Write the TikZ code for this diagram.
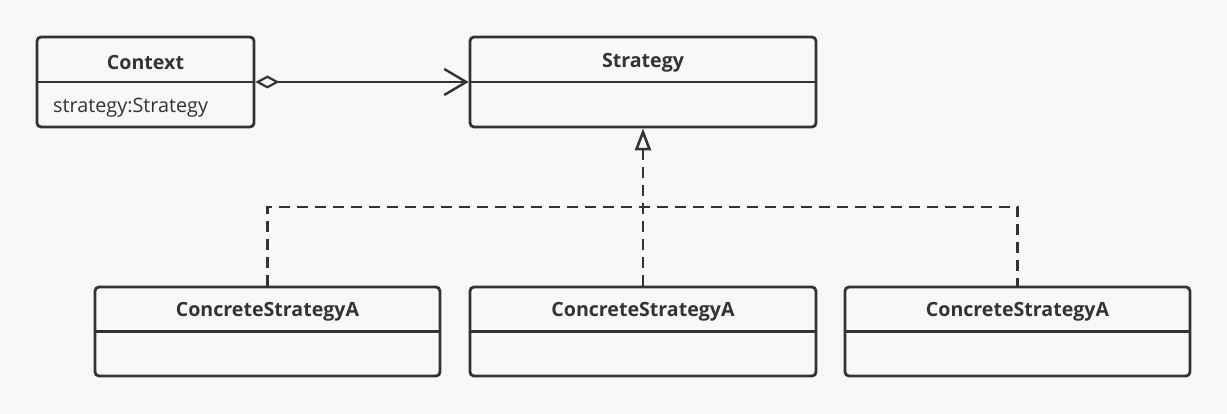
\documentclass[tikz,border=0pt]{standalone}
\usepackage{fontspec}
\setmainfont{Open Sans}
\usetikzlibrary{arrows.meta}
\definecolor{ink}{HTML}{333333}
\definecolor{bg}{HTML}{F8F8F8}
\tikzset{
  umlbox/.style={draw=ink, line width=2.8pt, rounded corners=4pt, inner sep=0pt},
  divider/.style={draw=ink, line width=2.8pt},
  title/.style={font=\bfseries\fontsize{19.6}{22}\selectfont, text=ink},
  field/.style={font=\fontsize{19.8}{22}\selectfont, text=ink, anchor=west, inner sep=0pt},
  conn/.style={draw=ink, line width=2.8pt},
  impl/.style={conn, dash pattern=on 11pt off 7pt},
}
\begin{document}
\begin{tikzpicture}[x=1pt,y=-1pt]
\fill[bg] (0,0) rectangle (1227,414);
\useasboundingbox (0,0) rectangle (1227,414);
% boxes
\node[umlbox, minimum width=217pt, minimum height=90pt] (ctx) at (145.5,82) {};
\node[umlbox, minimum width=346pt, minimum height=90pt] (str) at (643,82) {};
\node[umlbox, minimum width=345pt, minimum height=89pt] (ca) at (267.5,331.5) {};
\node[umlbox, minimum width=346pt, minimum height=89pt] (cb) at (643,331.5) {};
\node[umlbox, minimum width=345pt, minimum height=89pt] (cc) at (1017.5,331.5) {};
% dividers
\draw[divider] (ctx.west) -- (ctx.east);
\draw[divider] (str.west) -- (str.east);
\draw[divider] (ca.west) -- (ca.east);
\draw[divider] (cb.west) -- (cb.east);
\draw[divider] (cc.west) -- (cc.east);
% texts
\node[title] (ctxt) at (145.5,62.5) {Context};
\node[field] (ctxf) at (53,107.5) {strategy:Strategy};
\node[title] (strt) at (643,62.5) {Strategy};
\node[title] (cat) at (267.5,311.5) {ConcreteStrategyA};
\node[title] (cbt) at (643,311.5) {ConcreteStrategyA};
\node[title] (cct) at (1017.5,311.5) {ConcreteStrategyA};
% aggregation
\draw[conn, {Diamond[open, length=24pt, width=13pt, line width=2.2pt]}-{Straight Barb[length=22pt, width=26pt, line width=2.4pt]}] (ctx.east) -- (str.west);
% realization
\coordinate (ja) at (267.5,207);
\coordinate (jc) at (1017.5,207);
\draw[impl] (ca.north) -- (ja) -- (jc) -- (cc.north);
\draw[impl, -{Triangle[open, length=22pt, width=16pt, line width=2.6pt]}] (cb.north) -- (str.south);
\end{tikzpicture}
\end{document}
